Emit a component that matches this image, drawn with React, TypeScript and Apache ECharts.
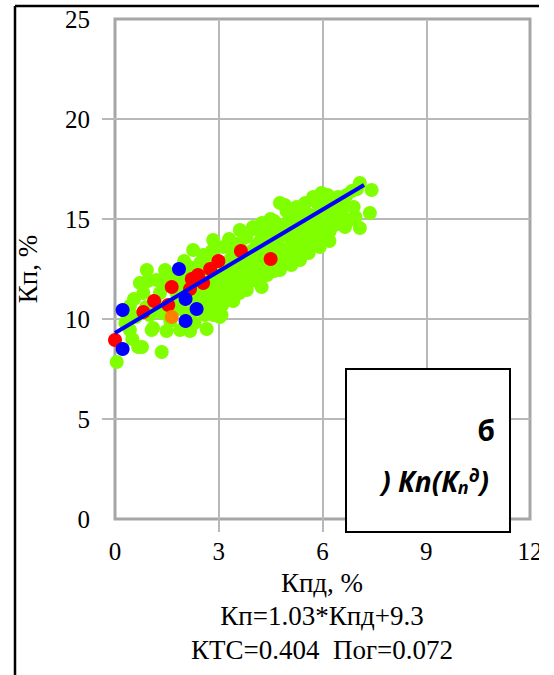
import React, { useEffect, useRef } from 'react';
import * as echarts from 'echarts';

// ---- data (Kпд, %  ->  Kп, %) ----
const xTicks = [0, 3, 6, 9, 12];
const yTicks = [0, 5, 10, 15, 20, 25];

const greenPoints: number[][] = [
  [0.05, 7.85], [0.43, 9.45], [0.43, 10.65], [0.3, 9.8], [0.67, 8.6], [0.78, 8.6], [1.35, 8.35], [0.6, 10.1], [0.55, 11.0],
  [0.72, 11.8], [0.92, 12.45], [0.82, 11.3], [0.9, 10.6], [1.06, 9.45], [1.1, 9.55], [1.0, 10.2], [1.15, 10.9], [1.2, 11.95], [1.3, 11.3], [1.45, 12.45], [1.35, 10.3],
  [1.49, 9.4], [1.6, 9.9], [1.7, 10.7], [1.78, 11.3], [1.75, 12.0], [1.88, 9.45], [1.97, 12.3], [1.9, 10.5], [2.0, 12.9],
  [2.17, 9.4], [2.1, 10.1], [2.25, 10.4], [2.3, 11.1], [2.26, 13.45], [2.35, 12.4], [2.46, 12.8], [2.46, 10.95], [2.4, 11.7], [2.2, 11.3],
  [2.65, 9.5], [2.6, 10.2], [2.75, 10.6], [2.7, 11.4], [2.84, 13.95], [2.75, 12.95], [2.6, 12.2], [2.94, 11.3], [2.9, 11.9], [2.8, 13.4],
  [3.03, 10.1], [3.08, 10.2], [3.1, 10.7], [3.23, 11.6], [3.03, 12.3], [3.13, 13.6], [3.2, 12.8], [3.32, 12.95], [3.35, 11.2], [3.42, 10.9], [3.41, 11.95], [3.3, 14.0], [3.4, 13.3],
  [3.61, 14.45], [3.61, 13.8], [3.55, 12.4], [3.6, 11.3], [3.7, 11.8], [3.81, 11.45], [3.75, 12.9], [3.85, 12.2], [3.9, 12.95], [3.99, 14.6], [3.8, 14.1], [3.95, 13.4],
  [4.05, 14.5], [4.1, 13.7], [4.15, 12.6], [4.24, 11.6], [4.2, 12.1], [4.3, 13.1], [4.38, 13.45], [4.35, 14.2], [4.48, 14.45], [4.45, 12.8], [4.5, 15.0],
  [4.6, 12.4], [4.65, 13.2], [4.7, 13.9], [4.77, 12.45], [4.77, 15.8], [4.8, 14.5], [4.85, 13.5], [4.91, 15.7], [4.96, 15.4], [4.96, 14.8], [4.9, 12.9],
  [5.05, 13.0], [5.1, 14.0], [5.15, 15.1], [5.2, 13.5], [5.25, 15.6], [5.3, 14.5], [5.35, 12.95], [5.35, 13.95], [5.4, 15.3], [5.45, 14.2],
  [5.54, 14.6], [5.6, 13.3], [5.65, 15.2], [5.73, 16.1], [5.7, 13.9], [5.8, 14.8], [5.83, 15.1], [5.85, 15.8], [5.92, 13.6], [5.97, 16.3], [5.9, 14.3],
  [6.05, 14.0], [6.1, 15.5], [6.15, 16.2], [6.21, 14.4], [6.25, 15.0], [6.31, 15.95], [6.4, 15.45], [6.35, 14.7],
  [6.5, 14.9], [6.6, 15.8], [6.79, 14.95], [6.7, 16.2], [6.9, 15.6], [7.0, 16.5],
  [7.08, 16.8], [7.42, 16.45], [7.37, 15.3], [7.08, 14.55],
  [0.35, 10.2], [0.5, 9.0], [0.95, 11.9], [1.25, 10.6], [1.4, 11.7], [1.55, 12.2], [1.65, 10.3], [1.85, 11.6], [2.05, 11.9], [2.15, 12.6],
  [2.3, 9.8], [2.5, 11.4], [2.55, 13.2], [2.65, 10.9], [2.85, 10.2], [2.95, 12.6], [3.0, 11.0], [3.15, 12.0], [3.25, 11.0], [3.3, 12.4],
  [3.45, 12.6], [3.5, 13.6], [3.5, 11.6], [3.65, 12.0], [3.7, 13.2], [3.8, 12.6], [3.9, 11.9], [4.0, 12.3], [4.05, 13.1], [4.1, 11.9],
  [4.2, 13.9], [4.25, 14.8], [4.3, 12.4], [4.4, 12.2], [4.4, 13.8], [4.55, 13.6], [4.55, 14.1], [4.6, 14.9], [4.7, 12.8], [4.75, 13.5],
  [4.85, 14.2], [4.95, 13.2], [5.0, 14.4], [5.05, 15.5], [5.1, 12.7], [5.2, 14.8], [5.3, 13.2], [5.4, 13.6], [5.5, 15.8], [5.5, 13.9],
  [5.6, 14.3], [5.75, 14.5], [5.9, 15.3], [6.0, 15.7], [6.0, 14.7], [6.2, 13.9], [6.3, 15.4], [6.45, 16.1], [6.55, 15.3], [6.65, 14.6],
  [6.85, 16.4], [6.95, 15.1],
];

const redPoints: number[][] = [
  [0.0, 8.95], [0.82, 10.35], [1.13, 10.9], [1.54, 10.7], [1.64, 11.6], [2.17, 11.5], [2.22, 12.0],
  [2.4, 12.2], [2.55, 11.8], [2.75, 12.5], [2.99, 12.9], [3.64, 13.4], [4.5, 13.0],
];

const bluePoints: number[][] = [
  [0.22, 10.45], [0.22, 8.5], [1.85, 12.5], [2.04, 11.0], [2.36, 10.5], [2.04, 9.9],
];

const orangePoints: number[][] = [[1.64, 10.1]];

const trendLine: number[][] = [[0, 9.3], [7.2, 16.7]];

const xName = 'Кпд, %';
const yName = 'Кп, %';
const equationText = 'Кп=1.03*Кпд+9.3';
const statsText = 'КТС=0.404  Пог=0.072';

const SERIF = 'Liberation Serif';
const SANS = 'Open Sans';

export default function App() {
  const ref = useRef<HTMLDivElement>(null);

  useEffect(() => {
    const chart = echarts.init(ref.current!, null, { renderer: 'svg' });
    const gridColor = '#b8b8b8';
    chart.setOption({
      animation: false,
      backgroundColor: '#ffffff',
      textStyle: { fontFamily: SERIF },
      grid: {
        left: 115,
        right: 24,
        top: 19,
        bottom: 156,
        show: true,
        borderColor: '#a6a6a6',
        borderWidth: 3,
      },
      xAxis: {
        type: 'value',
        min: 0,
        max: 12,
        interval: 3,
        axisLine: { show: false },
        axisTick: {
          show: true,
          length: 13,
          customValues: xTicks.slice(1, -1),
          lineStyle: { color: gridColor, width: 2 },
        },
        splitLine: { show: true, lineStyle: { color: gridColor, width: 2 } },
        axisLabel: {
          margin: 20,
          fontSize: 25,
          fontFamily: SERIF,
          color: '#000',
          customValues: xTicks,
        },
      },
      yAxis: {
        type: 'value',
        min: 0,
        max: 25,
        interval: 5,
        name: yName,
        nameLocation: 'middle',
        nameGap: 74,
        nameTextStyle: { fontSize: 27, fontFamily: SERIF, color: '#000' },
        axisLine: { show: false },
        axisTick: {
          show: true,
          length: 13,
          customValues: yTicks.slice(1, -1),
          lineStyle: { color: gridColor, width: 2 },
        },
        splitLine: { show: true, lineStyle: { color: gridColor, width: 2 } },
        axisLabel: {
          margin: 25,
          fontSize: 25,
          fontFamily: SERIF,
          color: '#000',
          customValues: yTicks,
        },
      },
      series: [
        {
          type: 'scatter',
          data: greenPoints,
          symbolSize: 14,
          itemStyle: { color: '#80ff00', opacity: 1 },
          z: 2,
        },
        {
          type: 'scatter',
          data: redPoints,
          symbolSize: 14,
          itemStyle: { color: '#ff0000', opacity: 1 },
          z: 3,
        },
        {
          type: 'scatter',
          data: orangePoints,
          symbolSize: 14,
          itemStyle: { color: '#ff7f00', opacity: 1 },
          z: 3,
        },
        {
          type: 'scatter',
          data: bluePoints,
          symbolSize: 14,
          itemStyle: { color: '#0000ff', opacity: 1 },
          z: 4,
        },
        {
          type: 'line',
          data: trendLine,
          symbol: 'none',
          lineStyle: { color: '#0000ff', width: 4 },
          z: 6,
        },
      ],
      graphic: [
        {
          type: 'text',
          x: 322,
          y: 583,
          style: { text: xName, font: `27px "${SERIF}"`, fill: '#000', align: 'center', verticalAlign: 'middle' },
        },
        {
          type: 'text',
          x: 322,
          y: 616,
          style: { text: equationText, font: `27px "${SERIF}"`, fill: '#000', align: 'center', verticalAlign: 'middle' },
        },
        {
          type: 'text',
          x: 322,
          y: 650,
          style: { text: statsText, font: `27px "${SERIF}"`, fill: '#000', align: 'center', verticalAlign: 'middle' },
        },
        {
          type: 'rect',
          shape: { x: 346, y: 369, width: 164, height: 163 },
          style: { fill: '#ffffff', stroke: '#000000', lineWidth: 2 },
          z: 100,
        },
        {
          type: 'text',
          x: 495,
          y: 430,
          z: 101,
          style: {
            text: 'б',
            font: `bold 28px "${SANS}"`,
            fill: '#000',
            align: 'right',
            verticalAlign: 'middle',
          },
        },
        {
          type: 'text',
          x: 489,
          y: 481,
          z: 101,
          style: {
            text: '{a|) Кп(К}{b|п}{c|д}{a|)}',
            align: 'right',
            verticalAlign: 'middle',
            rich: {
              a: { fontSize: 28, fontWeight: 'bold', fontStyle: 'italic', fontFamily: SANS, color: '#000' },
              b: { fontSize: 18, fontWeight: 'bold', fontStyle: 'italic', fontFamily: SANS, color: '#000', verticalAlign: 'bottom', padding: [12, 0, 0, 0] },
              c: { fontSize: 18, fontWeight: 'bold', fontStyle: 'italic', fontFamily: SANS, color: '#000', verticalAlign: 'top', padding: [0, 0, 12, 0] },
            },
          },
        },
        {
          type: 'line',
          shape: { x1: 15, y1: 6, x2: 540, y2: 6 },
          style: { stroke: '#000', lineWidth: 2.5 },
          z: 100,
        },
        {
          type: 'line',
          shape: { x1: 15, y1: 6, x2: 15, y2: 675 },
          style: { stroke: '#000', lineWidth: 2.5 },
          z: 100,
        },
        {
          type: 'rect',
          shape: { x: 539, y: 0, width: 15, height: 675 },
          style: { fill: '#ffffff' },
          z: 200,
        },
      ],
    });
    return () => chart.dispose();
  }, []);

  return (
    <div
      ref={ref}
      style={{ position: 'absolute', left: 0, top: 0, width: 554, height: 675, background: '#ffffff' }}
    />
  );
}
